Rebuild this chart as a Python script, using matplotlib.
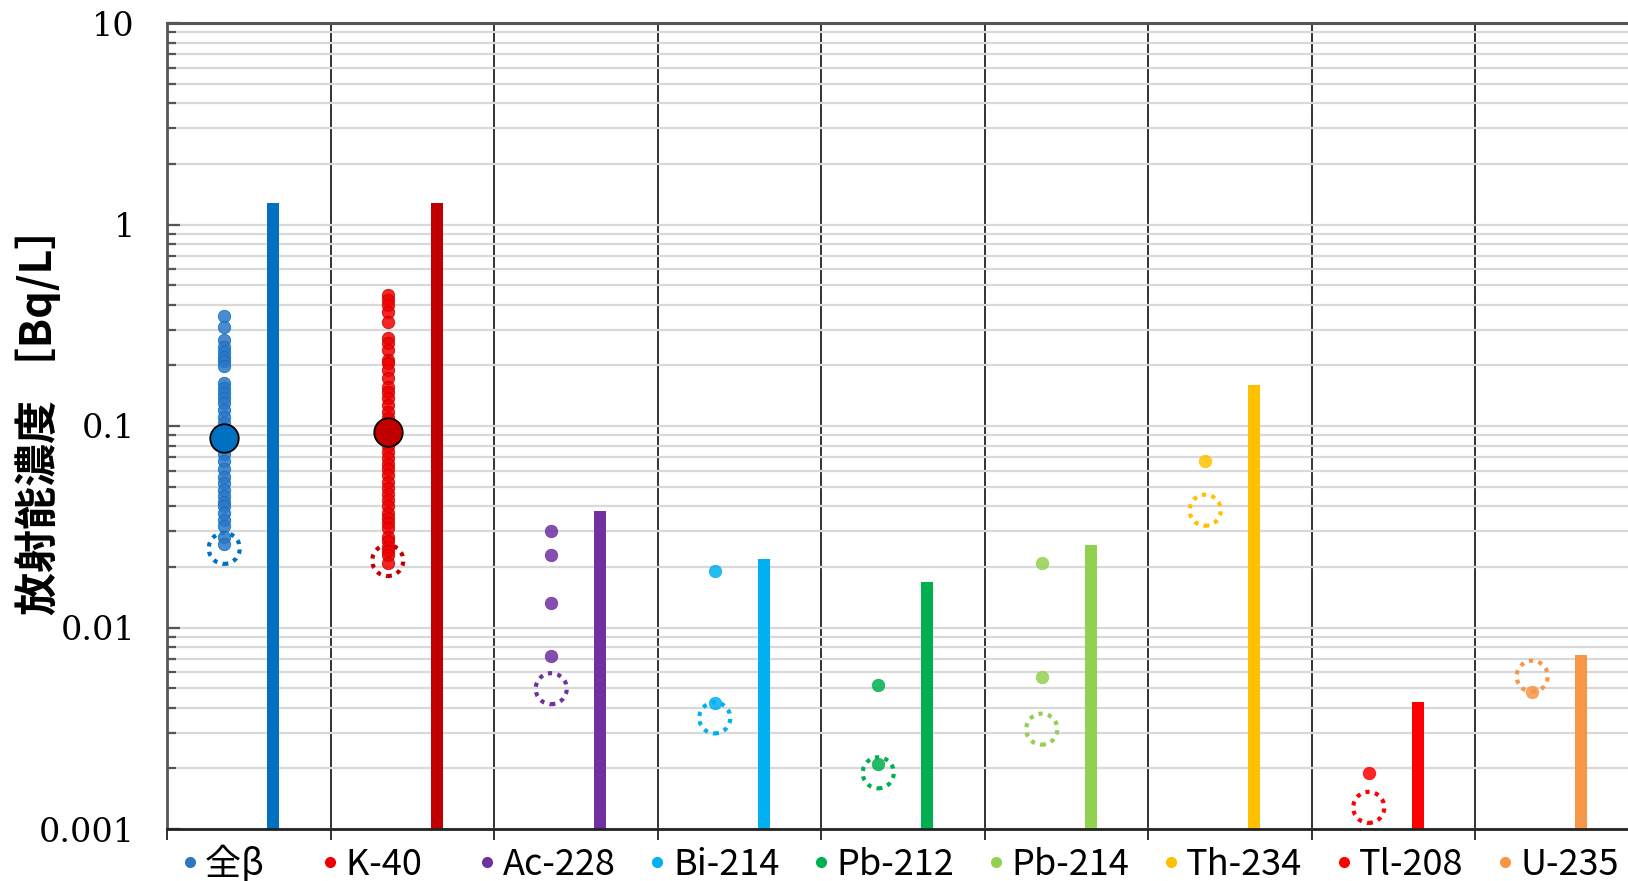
import numpy as np
import matplotlib.pyplot as plt
from matplotlib.lines import Line2D
from matplotlib.ticker import LogLocator, NullFormatter

######### DATA ##############
nuclides = ['全β', 'K-40', 'Ac-228', 'Bi-214', 'Pb-212', 'Pb-214', 'Th-234', 'Tl-208', 'U-235']
colors = ['#0070C0', '#C00000', '#7030A0', '#00B0F0', '#00B050', '#92D050', '#FFC000', '#FF0000', '#F79646']
point_colors = ['#2E75C6', '#F00000', '#7030A0', '#00B0F0', '#00B050', '#92D050', '#FFC000', '#FF0000', '#F79646']

# bar = maximum value per nuclide
max_vals = [1.28, 1.28, 0.0378, 0.0219, 0.0169, 0.0258, 0.159, 0.00425, 0.00734]

# dotted circles (lower reference level)
limit_vals = [0.0247, 0.0215, 0.00497, 0.00356, 0.0019, 0.00313, 0.0382, 0.00128, 0.00573]

# individual measurements
beta_vals = [0.353, 0.311, 0.267, 0.247, 0.234, 0.221, 0.209, 0.199, 0.163, 0.154,
             0.145, 0.137, 0.130, 0.120, 0.111, 0.103, 0.097, 0.092, 0.083, 0.079,
             0.073, 0.067, 0.061, 0.056, 0.052, 0.048, 0.045, 0.042, 0.040, 0.037,
             0.034, 0.032, 0.028, 0.026]
k40_vals = [0.447, 0.422, 0.399, 0.368, 0.329, 0.273, 0.258, 0.238, 0.213, 0.206,
            0.190, 0.173, 0.156, 0.148, 0.138, 0.127, 0.117, 0.110, 0.101, 0.096,
            0.090, 0.085, 0.080, 0.074, 0.069, 0.065, 0.061, 0.057, 0.053, 0.049,
            0.046, 0.043, 0.040, 0.037, 0.035, 0.033, 0.031, 0.028, 0.027, 0.025,
            0.024, 0.023, 0.021]
ac228_vals = [0.0302, 0.0230, 0.0132, 0.0072]
bi214_vals = [0.0190, 0.0042]
pb212_vals = [0.0052, 0.0021]
pb214_vals = [0.0209, 0.0057]
th234_vals = [0.0668]
tl208_vals = [0.0019]
u235_vals = [0.0048]
point_sets = [beta_vals, k40_vals, ac228_vals, bi214_vals, pb212_vals,
              pb214_vals, th234_vals, tl208_vals, u235_vals]

# averages (large markers)
mean_idx = [0, 1]
mean_vals = [0.0869, 0.0937]
#############################

W, H = 1628, 881
fig = plt.figure(figsize=(W / 100, H / 100), dpi=100)
ax = fig.add_axes([167 / W, 52 / H, 9 * 163.5 / W, 806 / H])

ax.set_yscale('log')
ax.set_ylim(0.001, 10)
ax.set_xlim(0, 9)

## GRID
ax.yaxis.set_minor_locator(LogLocator(base=10, subs=np.arange(2, 10)))
ax.yaxis.set_minor_formatter(NullFormatter())
ax.grid(True, axis='y', which='both', color='#D9D9D9', lw=1.6, zorder=0)
ax.set_xticks(np.arange(0, 10))
ax.set_xticklabels([])
ax.grid(True, axis='x', which='major', color='#222222', lw=1.3, zorder=0.5)

## LIMIT CIRCLES, BARS, POINTS
x = np.arange(len(nuclides))
ax.scatter(x + 0.35, limit_vals, s=500, facecolors='none', edgecolors=colors,
           linewidths=3.0, linestyles=(0, (1, 1.3)), zorder=3)
ax.bar(x + 0.65, np.array(max_vals) - 0.001, bottom=0.001, width=0.072,
       color=colors, zorder=2)
for i, vals in enumerate(point_sets):
    ax.scatter(np.full(len(vals), i + 0.35), vals, s=80, color=point_colors[i],
               alpha=0.85, edgecolors=colors[i], linewidths=0.6, zorder=4)
for i, m in zip(mean_idx, mean_vals):
    ax.scatter([i + 0.35], [m], s=420, color=colors[i], edgecolors='black',
               linewidths=1.3, zorder=5)

## AXES STYLE
ax.set_yticks([0.001, 0.01, 0.1, 1, 10])
ax.set_yticklabels(['0.001', '0.01', '0.1', '1', '10'], fontfamily='DejaVu Serif', fontsize=24)
ax.tick_params(axis='y', which='major', direction='in', length=9.5, width=1.6,
               color='#555555', pad=23)
ax.tick_params(axis='y', which='minor', direction='in', length=6.5, width=1.6,
               color='#555555')
ax.tick_params(axis='x', which='major', direction='out', length=8, width=1.3,
               color='#222222')
ax.spines['right'].set_visible(False)
ax.spines['left'].set_color('#555555')
ax.spines['left'].set_linewidth(2)
ax.spines['top'].set_color('#555555')
ax.spines['top'].set_linewidth(2.2)
ax.spines['bottom'].set_color('#222222')
ax.spines['bottom'].set_linewidth(2)

fig.text(38 / W, 1 - 410 / H, '放射能濃度 ［Bq/L］', rotation=90, ha='center', va='center',
         fontsize=31, fontweight='bold', family=['Noto Sans CJK JP', 'DejaVu Sans'])

## LEGEND (first two entries are wider in the original legend)
legend_labels = [nuclides[0] + '   ', nuclides[1] + '   '] + nuclides[2:]
handles = [Line2D([], [], ls='none', marker='o', markersize=7, color=c) for c in point_colors]
fig.legend(handles, legend_labels, ncol=9, loc='center left', bbox_to_anchor=(179 / W, 1 - 864 / H),
           frameon=False, borderpad=0, borderaxespad=0, handlelength=0.6,
           handletextpad=0.13, columnspacing=0.85,
           prop={'family': ['Noto Sans CJK JP', 'DejaVu Sans'], 'size': 26})

plt.savefig('out.png')
